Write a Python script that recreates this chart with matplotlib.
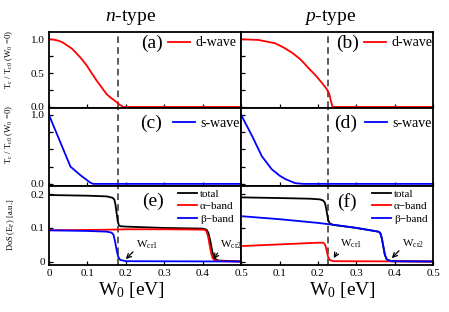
import numpy as np
import matplotlib.pyplot as plt

plt.rcParams['font.family'] = ['Liberation Serif', 'DejaVu Serif']
plt.rcParams['mathtext.fontset'] = 'custom'
plt.rcParams['mathtext.rm'] = 'Liberation Serif'
plt.rcParams['mathtext.it'] = 'Liberation Serif:italic'
plt.rcParams['mathtext.default'] = 'regular'

# Tc / Tc0
n_dwave_w = [0, 0.012, 0.024, 0.035, 0.046, 0.06, 0.072, 0.085, 0.098, 0.11, 0.124, 0.137, 0.15, 0.162, 0.172, 0.182, 0.193, 0.5]
n_dwave = [1.0, 0.995, 0.98, 0.955, 0.915, 0.86, 0.79, 0.71, 0.615, 0.51, 0.39, 0.29, 0.19, 0.13, 0.09, 0.04, 0.0, 0.0]
p_dwave_w = [0, 0.045, 0.089, 0.11, 0.133, 0.155, 0.176, 0.195, 0.211, 0.222, 0.229, 0.234, 0.238, 0.5]
p_dwave = [1.0, 0.99, 0.94, 0.88, 0.80, 0.70, 0.57, 0.46, 0.35, 0.27, 0.2, 0.08, 0.0, 0.0]
n_swave_w = [0, 0.056, 0.081, 0.107, 0.115, 0.5]
n_swave = [1.0, 0.25, 0.13, 0.02, 0.0, 0.0]
p_swave_w = [0, 0.028, 0.054, 0.08, 0.1, 0.115, 0.141, 0.162, 0.5]
p_swave = [1.0, 0.70, 0.40, 0.21, 0.12, 0.07, 0.01, 0.0, 0.0]

# DoS(E_F), n-type
e_tot_w = [0, 0.05, 0.1, 0.15, 0.165, 0.17, 0.173, 0.176, 0.179, 0.182, 0.186, 0.2, 0.3, 0.4, 0.41, 0.415, 0.42, 0.425, 0.43, 0.44, 0.5]
e_tot = [0.198, 0.197, 0.196, 0.194, 0.19, 0.185, 0.17, 0.145, 0.12, 0.108, 0.105, 0.104, 0.1, 0.098, 0.095, 0.085, 0.06, 0.03, 0.01, 0.003, 0.0]
e_alpha_w = [0, 0.1, 0.17, 0.2, 0.3, 0.4, 0.406, 0.41, 0.414, 0.418, 0.422, 0.426, 0.432, 0.45, 0.5]
e_alpha = [0.093, 0.094, 0.095, 0.096, 0.096, 0.095, 0.094, 0.09, 0.075, 0.05, 0.025, 0.01, 0.003, 0.001, 0.0]
e_beta_w = [0, 0.1, 0.15, 0.163, 0.168, 0.172, 0.176, 0.18, 0.185, 0.2, 0.5]
e_beta = [0.093, 0.091, 0.089, 0.086, 0.08, 0.06, 0.035, 0.015, 0.005, 0.001, 0.0]

# DoS(E_F), p-type
f_tot_w = [0, 0.1, 0.18, 0.205, 0.213, 0.218, 0.221, 0.224, 0.227, 0.231, 0.24, 0.3, 0.357, 0.362, 0.366, 0.37, 0.374, 0.379, 0.39, 0.5]
f_tot = [0.191, 0.189, 0.187, 0.185, 0.182, 0.175, 0.16, 0.14, 0.122, 0.113, 0.109, 0.1, 0.089, 0.085, 0.07, 0.045, 0.02, 0.006, 0.001, 0.0]
f_alpha_w = [0, 0.1, 0.2, 0.213, 0.217, 0.22, 0.223, 0.226, 0.23, 0.24, 0.5]
f_alpha = [0.046, 0.051, 0.056, 0.056, 0.053, 0.045, 0.03, 0.015, 0.005, 0.001, 0.0]
f_beta_w = [0, 0.1, 0.2, 0.25, 0.3, 0.357, 0.362, 0.366, 0.37, 0.374, 0.379, 0.39, 0.5]
f_beta = [0.135, 0.126, 0.115, 0.108, 0.1, 0.089, 0.085, 0.07, 0.045, 0.02, 0.006, 0.001, 0.0]

w_cr = [0.179, 0.225]

fig = plt.figure(figsize=(4.49, 3.12), dpi=100)
lefts = [0.109, 0.537]
width = 0.428
rows = [(0.654, 0.244), (0.404, 0.25), (0.151, 0.253)]
axes = [[fig.add_axes([l, b, width, h]) for l in lefts] for b, h in rows]

for r in range(3):
    for c in range(2):
        ax = axes[r][c]
        ax.set_xlim(0, 0.5)
        ax.set_xticks(np.arange(0, 0.51, 0.1))
        ax.tick_params(direction='in', length=3, width=0.9, labelsize=8, pad=3)
        for s in ax.spines.values():
            s.set_linewidth(1.3)
        ax.axvline(w_cr[c], color='0.25', lw=1.2, ls=(0, (4, 2.5)))
        if r < 2:
            ax.set_xticklabels([])
        elif c == 0:
            ax.set_xticklabels(['0', '0.1', '0.2', '0.3', '0.4', '0.5'])
        else:
            ax.set_xticklabels(['', '0.1', '0.2', '0.3', '0.4', '0.5'])

lw = 1.3
leg_kw = dict(frameon=False, loc='center left', borderpad=0, borderaxespad=0)

# (a), (b)
for c, (w, v, lab) in enumerate([(n_dwave_w, n_dwave, '(a)'), (p_dwave_w, p_dwave, '(b)')]):
    ax = axes[0][c]
    ax.plot(w, v, color='red', lw=lw, label='d-wave')
    ax.set_ylim(-0.015, 1.11)
    ax.set_yticks([0, 0.25, 0.5, 0.75, 1.0])
    ax.set_yticklabels(['0.0', '', '0.5', '', '1.0'] if c == 0 else [])
    ax.text(0.534 if c == 0 else 0.553, 0.85, lab, transform=ax.transAxes, fontsize=14, ha='center', va='center')
    ax.legend(fontsize=10, handlelength=1.6, handletextpad=0.4,
              bbox_to_anchor=(0.62 if c == 0 else 0.64, 0.855), **leg_kw)

# (c), (d)
for c, (w, v, lab) in enumerate([(n_swave_w, n_swave, '(c)'), (p_swave_w, p_swave, '(d)')]):
    ax = axes[1][c]
    ax.plot(w, v, color='blue', lw=lw, label='s-wave')
    ax.set_ylim(-0.03, 1.1)
    ax.set_yticks([0, 0.25, 0.5, 0.75, 1.0])
    ax.set_yticklabels(['0.0', '', '', '', '1.0'] if c == 0 else [])
    ax.text(0.53 if c == 0 else 0.545, 0.8, lab, transform=ax.transAxes, fontsize=14, ha='center', va='center')
    ax.legend(fontsize=10, handlelength=1.6, handletextpad=0.4,
              bbox_to_anchor=(0.645, 0.8), **leg_kw)

# (e), (f)
dos = [(e_tot_w, e_tot, e_alpha_w, e_alpha, e_beta_w, e_beta, '(e)'),
       (f_tot_w, f_tot, f_alpha_w, f_alpha, f_beta_w, f_beta, '(f)')]
for c, (tw, tv, aw, av, bw, bv, lab) in enumerate(dos):
    ax = axes[2][c]
    ax.plot(tw, tv, color='black', lw=lw, label='total')
    ax.plot(aw, av, color='red', lw=lw, label='α−band')
    ax.plot(bw, bv, color='blue', lw=lw, label='β−band')
    ax.set_ylim(-0.01, 0.225)
    ax.set_yticks([0, 0.1, 0.2])
    ax.set_yticklabels(['0', '0.1', '0.2'] if c == 0 else [])
    ax.text(0.54 if c == 0 else 0.55, 0.8, lab, transform=ax.transAxes, fontsize=14, ha='center', va='center')
    ax.legend(fontsize=8, handlelength=1.7, handletextpad=0.3, labelspacing=0.25,
              bbox_to_anchor=(0.67 if c == 0 else 0.68, 0.74), **leg_kw)

arrow = dict(arrowstyle='->', color='black', lw=0.9, shrinkA=0, shrinkB=0, relpos=(0, 0.2))
ann = [(axes[2][0], r'W$_{cr1}$', (0.2, 0.007), (0.226, 0.03)),
       (axes[2][0], r'W$_{cr2}$', (0.428, 0.007), (0.446, 0.03)),
       (axes[2][1], r'W$_{cr1}$', (0.241, 0.01), (0.256, 0.033)),
       (axes[2][1], r'W$_{cr2}$', (0.392, 0.01), (0.418, 0.033))]
for ax, t, xy, xyt in ann:
    ax.annotate(t, xy=xy, xytext=xyt, fontsize=8, ha='left', va='bottom', arrowprops=arrow)

fig.text(0.29, 0.945, r'$\mathit{n}$-type', fontsize=14, ha='center', va='center')
fig.text(0.735, 0.945, r'$\mathit{p}$-type', fontsize=14, ha='center', va='center')
fig.text(0.293, 0.07, r'W$_0$ [eV]', fontsize=14, ha='center', va='center')
fig.text(0.762, 0.07, r'W$_0$ [eV]', fontsize=14, ha='center', va='center')

tc_label = r'T$_c$ / T$_{c0}$ (W$_0$ =0)'
fig.text(0.02, 0.81, tc_label, fontsize=6.3, rotation=90, ha='center', va='center')
fig.text(0.02, 0.57, tc_label, fontsize=6.3, rotation=90, ha='center', va='center')
fig.text(0.026, 0.278, r'DoS (E$_F$) [a.u.]', fontsize=6, rotation=90, ha='center', va='center')

fig.savefig('out.png', dpi=100)
